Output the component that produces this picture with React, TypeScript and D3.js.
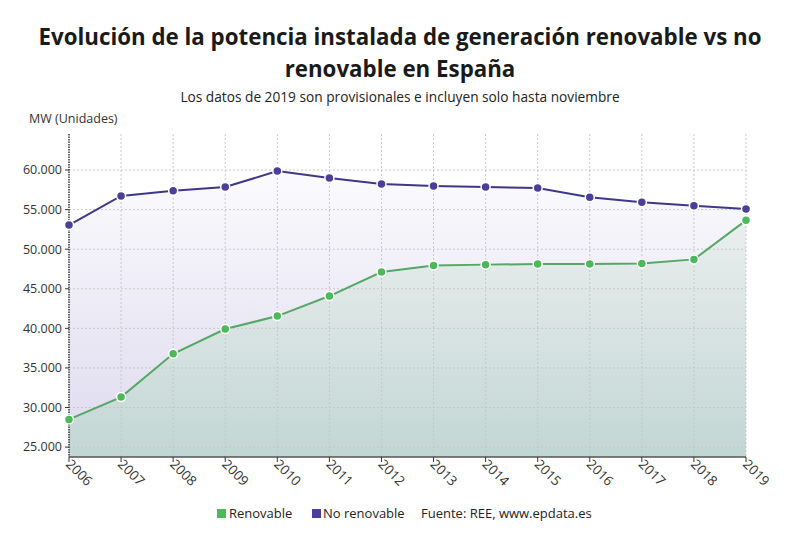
import React from "react";
import * as d3 from "d3";

const years = [2006, 2007, 2008, 2009, 2010, 2011, 2012, 2013, 2014, 2015, 2016, 2017, 2018, 2019];
const renovable = [28500, 31320, 36790, 39910, 41550, 44080, 47110, 47950, 48050, 48120, 48140, 48200, 48710, 53640];
const noRenovable = [53050, 56720, 57390, 57850, 59870, 58990, 58230, 57980, 57850, 57720, 56550, 55920, 55490, 55070];
const yTicks = [25000, 30000, 35000, 40000, 45000, 50000, 55000, 60000];

const W = 800, H = 539;
const M = { left: 69, right: 54, top: 134, bottom: 82 };
const FONT = "'Open Sans', 'Noto Sans', sans-serif";

export default function App() {
  const x = d3.scaleLinear().domain([years[0], years[years.length - 1]]).range([M.left, W - M.right]);
  const y = d3.scaleLinear().domain([23750, 64550]).range([H - M.bottom, M.top]);
  const y0 = H - M.bottom;
  const fmtTick = (v: number) => d3.format(",")(v).replace(/,/g, ".");

  const line = d3.line<number>().x((_, i) => x(years[i])).y((d) => y(d));
  const area = d3.area<number>().x((_, i) => x(years[i])).y0(y0).y1((d) => y(d));

  return (
    <svg width={W} height={H} style={{ position: "absolute", left: 0, top: 0, background: "#fff" }} fontFamily={FONT}>
      <defs>
        <linearGradient id="gNo" gradientUnits="userSpaceOnUse" x1={0} y1={M.top} x2={0} y2={y0}>
          <stop offset="0" stopColor="#ffffff" />
          <stop offset="1" stopColor="#ddd9ee" />
        </linearGradient>
        <linearGradient id="gRe" gradientUnits="userSpaceOnUse" x1={0} y1={y(53640)} x2={0} y2={y0}>
          <stop offset="0" stopColor="#eaefee" />
          <stop offset="1" stopColor="#c2d6d4" />
        </linearGradient>
        <clipPath id="xlabClip">
          <rect x={0} y={0} width={W} height={486} />
        </clipPath>
      </defs>

      <text x={400} y={45} textAnchor="middle" fontSize={22.3} fontWeight={700} fill="#1a1a1a">
        Evolución de la potencia instalada de generación renovable vs no
      </text>
      <text x={400} y={77} textAnchor="middle" fontSize={22.3} fontWeight={700} fill="#1a1a1a">
        renovable en España
      </text>
      <text x={400} y={102} textAnchor="middle" fontSize={13.7} fill="#222">
        Los datos de 2019 son provisionales e incluyen solo hasta noviembre
      </text>
      <text x={29} y={123} fontSize={12.5} fill="#333">MW (Unidades)</text>

      <path d={area(noRenovable) || ""} fill="url(#gNo)" />
      <path d={area(renovable) || ""} fill="url(#gRe)" />

      {yTicks.map((t) => (
        <line key={"gy" + t} x1={M.left} x2={W - M.right} y1={y(t)} y2={y(t)}
          stroke="#c8c8c8" strokeWidth={1} strokeDasharray="2,2" />
      ))}
      {years.slice(1).map((yr) => (
        <line key={"gx" + yr} x1={x(yr)} x2={x(yr)} y1={M.top} y2={y0}
          stroke="#c8c8c8" strokeWidth={1} strokeDasharray="2,2" />
      ))}

      <line x1={M.left} x2={M.left} y1={M.top} y2={y0} stroke="#333" strokeWidth={1.5} strokeDasharray="1.5,1" />
      {yTicks.map((t) => (
        <g key={"ty" + t}>
          <line x1={M.left - 4} x2={M.left} y1={y(t)} y2={y(t)} stroke="#333" />
          <text x={M.left - 7} y={y(t)} dy="0.35em" textAnchor="end" fontSize={12.5} fill="#333">
            {fmtTick(t)}
          </text>
        </g>
      ))}

      <line x1={M.left} x2={W - M.right} y1={y0} y2={y0} stroke="#555" strokeWidth={1.5} />
      <g clipPath="url(#xlabClip)">
        {years.map((yr) => (
          <g key={"tx" + yr}>
            <line x1={x(yr)} x2={x(yr)} y1={y0} y2={y0 + 5} stroke="#333" />
            <text transform={`translate(${x(yr) - 4},${y0 + 8}) rotate(45)`} fontSize={13.5} fill="#333">
              {yr}
            </text>
          </g>
        ))}
      </g>

      <path d={line(noRenovable) || ""} fill="none" stroke="#3d3887" strokeWidth={2} />
      <path d={line(renovable) || ""} fill="none" stroke="#55a766" strokeWidth={2} />
      {noRenovable.map((v, i) => (
        <circle key={"pn" + i} cx={x(years[i])} cy={y(v)} r={4.5} fill="#4a3f9a" stroke="#fff" strokeWidth={1.5} />
      ))}
      {renovable.map((v, i) => (
        <circle key={"pr" + i} cx={x(years[i])} cy={y(v)} r={4.5} fill="#4cb95a" stroke="#fff" strokeWidth={1.5} />
      ))}

      <rect x={217} y={509} width={9} height={9} fill="#4cb95a" />
      <text x={229} y={518} fontSize={13} fill="#222">Renovable</text>
      <rect x={312} y={509} width={9} height={9} fill="#4a3f9a" />
      <text x={323} y={518} fontSize={13} fill="#222">No renovable</text>
      <text x={421} y={518} fontSize={13} fill="#222">Fuente: REE, www.epdata.es</text>
    </svg>
  );
}
